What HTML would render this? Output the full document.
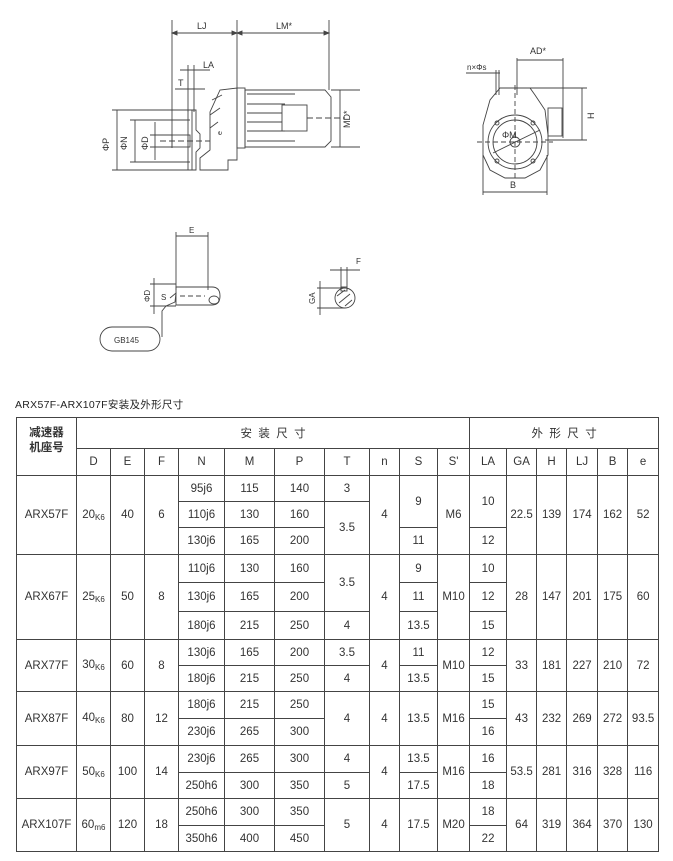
<!DOCTYPE html>
<html><head><meta charset="utf-8"><style>
body{margin:0;background:#fff;width:673px;height:861px;position:relative;overflow:hidden;font-family:"Liberation Sans","Noto Sans CJK SC",sans-serif;}
svg{position:absolute;left:0;top:0}
table{position:absolute;left:16px;top:417px;border-collapse:collapse;table-layout:fixed;width:642px;border:1.5px solid #333;}
td{border:1px solid #444;text-align:center;vertical-align:middle;font-size:11.5px;color:#333;padding:0;white-space:nowrap}
sub{font-size:8px;vertical-align:-2px}
.t{position:absolute;left:15px;top:397px;font-size:10.5px;color:#222;letter-spacing:0.3px}
</style></head><body>
<svg width="673" height="400" viewBox="0 0 673 400" fill="none" stroke="#444" stroke-width="0.9" font-family="Liberation Sans, sans-serif">
<line x1="172" y1="20" x2="172" y2="148"/><line x1="237" y1="20" x2="237" y2="90"/><line x1="329" y1="20" x2="329" y2="90"/>
<line x1="172" y1="33" x2="329" y2="33"/>
<path d="M172 33 l5 -2 v4z M237 33 l-5 -2 v4z M237 33 l5 -2 v4z M329 33 l-5 -2 v4z" fill="#444"/>
<text x="197" y="29" font-size="9" fill="#333" stroke="none">LJ</text>
<text x="276" y="29" font-size="9" fill="#333" stroke="none">LM*</text>
<text x="203" y="68" font-size="9" fill="#333" stroke="none">LA</text>
<text x="178" y="86" font-size="9" fill="#333" stroke="none">T</text>
<line x1="180" y1="70" x2="210" y2="70"/><line x1="188" y1="65" x2="188" y2="112"/><line x1="194" y1="65" x2="194" y2="112"/>
<line x1="175" y1="89" x2="205" y2="89"/>
<path d="M188 110 L196 110 L196 130 L200 134 L200 148 L196 152 L196 170 L188 170 Z"/>
<line x1="192" y1="110" x2="192" y2="170"/>
<rect x="172" y="135" width="18" height="12"/>
<line x1="160" y1="141" x2="210" y2="141" stroke-dasharray="6 3"/>
<path d="M200 170 L200 158 L210 150 L210 112 L220 90 L237 88 L237 160 L228 160 L228 170 Z"/>
<line x1="212" y1="100" x2="222" y2="95"/><line x1="210" y1="115" x2="220" y2="108"/><line x1="210" y1="128" x2="218" y2="122"/>
<text x="222" y="135" font-size="7" fill="#333" stroke="none" transform="rotate(-90 222 135)">e</text>
<rect x="237" y="88" width="8" height="60"/>
<path d="M245 90 L325 90 L331 97 L331 141 L325 147 L245 147 Z"/>
<line x1="247" y1="94" x2="295" y2="94"/><line x1="247" y1="104" x2="285" y2="104"/><line x1="247" y1="113" x2="282" y2="113"/><line x1="247" y1="122" x2="282" y2="122"/><line x1="247" y1="131" x2="285" y2="131"/><line x1="247" y1="141" x2="295" y2="141"/>
<rect x="282" y="105" width="25" height="26"/>
<line x1="307" y1="118" x2="345" y2="118" stroke-dasharray="6 3"/>
<line x1="331" y1="90" x2="360" y2="90"/><line x1="331" y1="147" x2="360" y2="147"/>
<line x1="340" y1="90" x2="340" y2="147"/>
<text x="350" y="128" font-size="9" fill="#333" stroke="none" transform="rotate(-90 350 128)">MD*</text>
<line x1="112" y1="110" x2="190" y2="110"/><line x1="112" y1="170" x2="190" y2="170"/>
<line x1="117" y1="110" x2="117" y2="170"/>
<line x1="130" y1="120" x2="190" y2="120"/><line x1="130" y1="162" x2="190" y2="162"/>
<line x1="135" y1="120" x2="135" y2="162"/>
<line x1="150" y1="135" x2="172" y2="135"/><line x1="150" y1="147" x2="172" y2="147"/>
<line x1="155" y1="122" x2="155" y2="160"/>
<text x="109" y="151" font-size="9" fill="#333" stroke="none" transform="rotate(-90 109 151)">ΦP</text>
<text x="127" y="150" font-size="9" fill="#333" stroke="none" transform="rotate(-90 127 150)">ΦN</text>
<text x="148" y="150" font-size="9" fill="#333" stroke="none" transform="rotate(-90 148 150)">ΦD</text>

<text x="530" y="54" font-size="9" fill="#333" stroke="none">AD*</text>
<line x1="517" y1="60" x2="563" y2="60"/><line x1="517" y1="58" x2="517" y2="95"/><line x1="563" y1="58" x2="563" y2="138"/>
<text x="467" y="70" font-size="8" fill="#333" stroke="none">n×Φs</text>
<line x1="466" y1="73" x2="500" y2="73"/><line x1="496" y1="70" x2="496" y2="95"/><line x1="499" y1="70" x2="499" y2="95"/>
<line x1="530" y1="88" x2="587" y2="88"/><line x1="545" y1="140" x2="587" y2="140"/><line x1="582" y1="88" x2="582" y2="140"/>
<text x="594" y="119" font-size="9" fill="#333" stroke="none" transform="rotate(-90 594 119)">H</text>
<path d="M500 88 L530 88 L535 95 L545 110 L548 135 L548 155 L540 170 L525 178 L505 178 L490 170 L483 155 L483 125 L490 100 Z"/>
<rect x="548" y="108" width="14" height="28"/>
<circle cx="515" cy="142" r="27"/><circle cx="515" cy="142" r="22"/><circle cx="515" cy="142" r="5"/>
<circle cx="497" cy="123" r="2"/><circle cx="533" cy="123" r="2"/><circle cx="497" cy="161" r="2"/><circle cx="533" cy="161" r="2"/>
<line x1="493" y1="153" x2="540" y2="130"/>
<line x1="477" y1="142" x2="553" y2="142" stroke-dasharray="5 3"/>
<line x1="515" y1="85" x2="515" y2="180" stroke-dasharray="5 3"/>
<text x="502" y="138" font-size="9" fill="#333" stroke="none">ΦM</text>
<line x1="483" y1="155" x2="483" y2="195"/><line x1="547" y1="155" x2="547" y2="195"/>
<line x1="483" y1="192" x2="547" y2="192"/>
<text x="510" y="188" font-size="9" fill="#333" stroke="none">B</text>

<line x1="176" y1="232" x2="176" y2="290"/><line x1="208" y1="232" x2="208" y2="290"/>
<line x1="176" y1="236" x2="208" y2="236"/>
<text x="189" y="233" font-size="8" fill="#333" stroke="none">E</text>
<path d="M176 287 L212 287 Q220 287 220 296 Q220 305 212 305 L176 305 Z"/>
<line x1="180" y1="296" x2="205" y2="296" stroke-dasharray="5 3"/>
<ellipse cx="214" cy="300" rx="5" ry="4"/>
<line x1="150" y1="284" x2="176" y2="284"/><line x1="150" y1="306" x2="176" y2="306"/>
<line x1="154" y1="278" x2="154" y2="314"/>
<text x="150" y="302" font-size="8" fill="#333" stroke="none" transform="rotate(-90 150 302)">ΦD</text>
<text x="161" y="300" font-size="8" fill="#333" stroke="none">S</text>
<path d="M170 298 L176 293 L175 302 L166 306 L162 311 L162 337"/>
<rect x="100" y="327" width="60" height="24" rx="12" ry="12"/>
<text x="114" y="343" font-size="8" fill="#333" stroke="none">GB145</text>
<circle cx="345" cy="298" r="10"/>
<path d="M337 296 L345 290 M339 303 L350 294 M345 306 L352 300" />
<rect x="341" y="287" width="6" height="4"/>
<line x1="317" y1="288" x2="345" y2="288"/><line x1="317" y1="308" x2="345" y2="308"/>
<line x1="320" y1="281" x2="320" y2="315"/>
<text x="315" y="304" font-size="8" fill="#333" stroke="none" transform="rotate(-90 315 304)">GA</text>
<line x1="341" y1="267" x2="341" y2="290"/><line x1="347" y1="267" x2="347" y2="290"/>
<line x1="330" y1="270" x2="360" y2="270"/>
<text x="356" y="264" font-size="8" fill="#333" stroke="none">F</text>
</svg>
<div class="t">ARX57F-ARX107F安装及外形尺寸</div>
<table>
<colgroup><col style="width:60px"><col style="width:34px"><col style="width:34px"><col style="width:34px"><col style="width:46px"><col style="width:50px"><col style="width:50px"><col style="width:45px"><col style="width:30px"><col style="width:38px"><col style="width:32px"><col style="width:37px"><col style="width:30px"><col style="width:30px"><col style="width:31px"><col style="width:30px"><col style="width:31px"></colgroup>
<tr style="height:31px"><td rowspan="2" style="font-weight:bold;line-height:15px;vertical-align:top;padding-top:8px">减速器<br>机座号</td><td colspan="10">安 &nbsp;装 &nbsp;尺 &nbsp;寸</td><td colspan="6">外 &nbsp;形 &nbsp;尺 &nbsp;寸</td></tr>
<tr style="height:27px"><td>D</td><td>E</td><td>F</td><td>N</td><td>M</td><td>P</td><td>T</td><td>n</td><td>S</td><td>S'</td><td>LA</td><td>GA</td><td>H</td><td>LJ</td><td>B</td><td>e</td></tr>

<tr style="height:26px"><td rowspan="3">ARX57F</td><td rowspan="3">20<sub>K6</sub></td><td rowspan="3">40</td><td rowspan="3">6</td><td>95j6</td><td>115</td><td>140</td><td>3</td><td rowspan="3">4</td><td rowspan="2">9</td><td rowspan="3">M6</td><td rowspan="2">10</td><td rowspan="3">22.5</td><td rowspan="3">139</td><td rowspan="3">174</td><td rowspan="3">162</td><td rowspan="3">52</td></tr>
<tr style="height:26px"><td>110j6</td><td>130</td><td>160</td><td rowspan="2">3.5</td></tr>
<tr style="height:27px"><td>130j6</td><td>165</td><td>200</td><td>11</td><td>12</td></tr>

<tr style="height:28px"><td rowspan="3">ARX67F</td><td rowspan="3">25<sub>K6</sub></td><td rowspan="3">50</td><td rowspan="3">8</td><td>110j6</td><td>130</td><td>160</td><td rowspan="2">3.5</td><td rowspan="3">4</td><td>9</td><td rowspan="3">M10</td><td>10</td><td rowspan="3">28</td><td rowspan="3">147</td><td rowspan="3">201</td><td rowspan="3">175</td><td rowspan="3">60</td></tr>
<tr style="height:29px"><td>130j6</td><td>165</td><td>200</td><td>11</td><td>12</td></tr>
<tr style="height:28px"><td>180j6</td><td>215</td><td>250</td><td>4</td><td>13.5</td><td>15</td></tr>

<tr style="height:26px"><td rowspan="2">ARX77F</td><td rowspan="2">30<sub>K6</sub></td><td rowspan="2">60</td><td rowspan="2">8</td><td>130j6</td><td>165</td><td>200</td><td>3.5</td><td rowspan="2">4</td><td>11</td><td rowspan="2">M10</td><td>12</td><td rowspan="2">33</td><td rowspan="2">181</td><td rowspan="2">227</td><td rowspan="2">210</td><td rowspan="2">72</td></tr>
<tr style="height:26px"><td>180j6</td><td>215</td><td>250</td><td>4</td><td>13.5</td><td>15</td></tr>

<tr style="height:27px"><td rowspan="2">ARX87F</td><td rowspan="2">40<sub>K6</sub></td><td rowspan="2">80</td><td rowspan="2">12</td><td>180j6</td><td>215</td><td>250</td><td rowspan="2">4</td><td rowspan="2">4</td><td rowspan="2">13.5</td><td rowspan="2">M16</td><td>15</td><td rowspan="2">43</td><td rowspan="2">232</td><td rowspan="2">269</td><td rowspan="2">272</td><td rowspan="2">93.5</td></tr>
<tr style="height:27px"><td>230j6</td><td>265</td><td>300</td><td>16</td></tr>

<tr style="height:27px"><td rowspan="2">ARX97F</td><td rowspan="2">50<sub>K6</sub></td><td rowspan="2">100</td><td rowspan="2">14</td><td>230j6</td><td>265</td><td>300</td><td>4</td><td rowspan="2">4</td><td>13.5</td><td rowspan="2">M16</td><td>16</td><td rowspan="2">53.5</td><td rowspan="2">281</td><td rowspan="2">316</td><td rowspan="2">328</td><td rowspan="2">116</td></tr>
<tr style="height:26px"><td>250h6</td><td>300</td><td>350</td><td>5</td><td>17.5</td><td>18</td></tr>

<tr style="height:27px"><td rowspan="2">ARX107F</td><td rowspan="2">60<sub>m6</sub></td><td rowspan="2">120</td><td rowspan="2">18</td><td>250h6</td><td>300</td><td>350</td><td rowspan="2">5</td><td rowspan="2">4</td><td rowspan="2">17.5</td><td rowspan="2">M20</td><td>18</td><td rowspan="2">64</td><td rowspan="2">319</td><td rowspan="2">364</td><td rowspan="2">370</td><td rowspan="2">130</td></tr>
<tr style="height:26px"><td>350h6</td><td>400</td><td>450</td><td>22</td></tr>
</table>
</body></html>
